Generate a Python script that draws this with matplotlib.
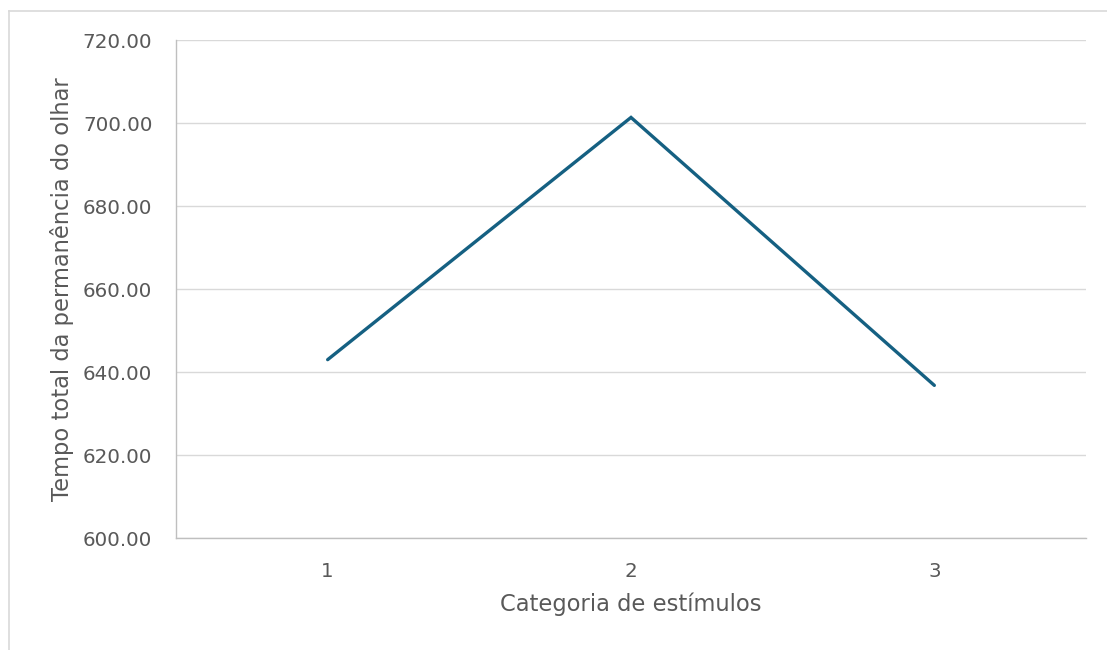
import matplotlib
matplotlib.use("Agg")
import matplotlib.pyplot as plt
from matplotlib.lines import Line2D

categories = [1, 2, 3]
tempo = [643.0, 701.4, 636.8]
y_ticks = [600, 620, 640, 660, 680, 700, 720]

plt.rcParams['font.family'] = ['DejaVu Sans']

fig = plt.figure(figsize=(11.07, 6.5), dpi=100)
ax = fig.add_axes([176 / 1107, 1 - 538 / 650, (1086 - 176) / 1107, (538 - 40.3) / 650])

ax.plot(categories, tempo, color='#156082', lw=2.4, solid_capstyle='round',
        solid_joinstyle='miter', zorder=3)

ax.set_xlim(0.5, 3.5)
ax.set_ylim(600, 720)
ax.set_yticks(y_ticks)
ax.set_yticklabels([f"{v:.2f}" for v in y_ticks])
ax.set_xticks(categories)
ax.set_xticklabels([str(c) for c in categories])

ax.grid(axis='y', color='#D9D9D9', lw=1.0)
ax.set_axisbelow(True)
for side in ('top', 'right'):
    ax.spines[side].set_visible(False)
for side in ('left', 'bottom'):
    ax.spines[side].set_color('#BFBFBF')
    ax.spines[side].set_linewidth(1.0)

ax.tick_params(axis='both', length=0, labelsize=14.3, labelcolor='#595959')
ax.tick_params(axis='y', pad=17)
ax.tick_params(axis='x', pad=17.5)

ax.set_xlabel('Categoria de estímulos', fontsize=16.3, color='#595959', labelpad=8)
ax.set_ylabel('Tempo total da permanência do olhar', fontsize=16.3, color='#595959', labelpad=6)

# outer chart frame
fig.add_artist(Line2D([8.5 / 1107, 1.0], [1 - 10.5 / 650] * 2, transform=fig.transFigure,
                      color='#D9D9D9', lw=1.2))
fig.add_artist(Line2D([8.5 / 1107] * 2, [0.0, 1 - 10.5 / 650], transform=fig.transFigure,
                      color='#D9D9D9', lw=1.2))

fig.savefig('out.png', dpi=100)
